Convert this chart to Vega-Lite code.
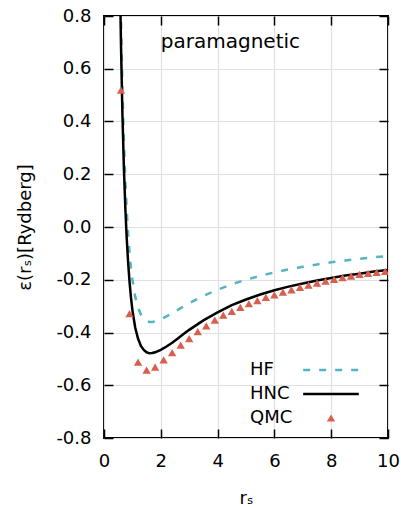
{
  "$schema": "https://vega.github.io/schema/vega-lite/v6.json",
  "width": 284,
  "height": 422,
  "autosize": {"type": "none"},
  "padding": {"left": 104, "top": 16, "right": 13, "bottom": 70},
  "background": "white",
  "config": {
    "font": "DejaVu Sans",
    "view": {"stroke": "black", "strokeWidth": 2},
    "axis": {
      "labelFont": "DejaVu Sans",
      "labelFontSize": 18,
      "labelColor": "black",
      "titleFont": "DejaVu Sans",
      "titleFontSize": 18,
      "titleFontWeight": "normal",
      "titleColor": "black",
      "domain": false,
      "tickColor": "black",
      "tickWidth": 1.5,
      "tickSize": -9,
      "gridColor": "#e0e0e0",
      "gridWidth": 1.2
    }
  },
  "datasets": {
    "curves": [
      {"series": "HF", "rs": 0.59, "e": 0.838},
      {"series": "HF", "rs": 0.6, "e": 0.777},
      {"series": "HF", "rs": 0.65, "e": 0.520},
      {"series": "HF", "rs": 0.7, "e": 0.326},
      {"series": "HF", "rs": 0.75, "e": 0.177},
      {"series": "HF", "rs": 0.8, "e": 0.062},
      {"series": "HF", "rs": 0.85, "e": -0.028},
      {"series": "HF", "rs": 0.9, "e": -0.099},
      {"series": "HF", "rs": 0.95, "e": -0.156},
      {"series": "HF", "rs": 1.0, "e": -0.200},
      {"series": "HF", "rs": 1.1, "e": -0.265},
      {"series": "HF", "rs": 1.2, "e": -0.306},
      {"series": "HF", "rs": 1.3, "e": -0.332},
      {"series": "HF", "rs": 1.4, "e": -0.347},
      {"series": "HF", "rs": 1.5, "e": -0.356},
      {"series": "HF", "rs": 1.6, "e": -0.360},
      {"series": "HF", "rs": 1.7, "e": -0.360},
      {"series": "HF", "rs": 1.8, "e": -0.358},
      {"series": "HF", "rs": 2.0, "e": -0.350},
      {"series": "HF", "rs": 2.2, "e": -0.339},
      {"series": "HF", "rs": 2.4, "e": -0.327},
      {"series": "HF", "rs": 2.6, "e": -0.314},
      {"series": "HF", "rs": 2.8, "e": -0.301},
      {"series": "HF", "rs": 3.0, "e": -0.289},
      {"series": "HF", "rs": 3.5, "e": -0.261},
      {"series": "HF", "rs": 4.0, "e": -0.238},
      {"series": "HF", "rs": 4.5, "e": -0.217},
      {"series": "HF", "rs": 5.0, "e": -0.200},
      {"series": "HF", "rs": 5.5, "e": -0.185},
      {"series": "HF", "rs": 6.0, "e": -0.172},
      {"series": "HF", "rs": 6.5, "e": -0.161},
      {"series": "HF", "rs": 7.0, "e": -0.151},
      {"series": "HF", "rs": 7.5, "e": -0.142},
      {"series": "HF", "rs": 8.0, "e": -0.134},
      {"series": "HF", "rs": 8.5, "e": -0.127},
      {"series": "HF", "rs": 9.0, "e": -0.121},
      {"series": "HF", "rs": 9.5, "e": -0.115},
      {"series": "HF", "rs": 10.0, "e": -0.110},
      {"series": "HNC", "rs": 0.57, "e": 0.880},
      {"series": "HNC", "rs": 0.6, "e": 0.682},
      {"series": "HNC", "rs": 0.65, "e": 0.422},
      {"series": "HNC", "rs": 0.7, "e": 0.226},
      {"series": "HNC", "rs": 0.75, "e": 0.075},
      {"series": "HNC", "rs": 0.8, "e": -0.043},
      {"series": "HNC", "rs": 0.85, "e": -0.135},
      {"series": "HNC", "rs": 0.9, "e": -0.209},
      {"series": "HNC", "rs": 0.95, "e": -0.268},
      {"series": "HNC", "rs": 1.0, "e": -0.315},
      {"series": "HNC", "rs": 1.1, "e": -0.382},
      {"series": "HNC", "rs": 1.2, "e": -0.424},
      {"series": "HNC", "rs": 1.3, "e": -0.451},
      {"series": "HNC", "rs": 1.4, "e": -0.466},
      {"series": "HNC", "rs": 1.5, "e": -0.475},
      {"series": "HNC", "rs": 1.6, "e": -0.479},
      {"series": "HNC", "rs": 1.7, "e": -0.478},
      {"series": "HNC", "rs": 1.8, "e": -0.475},
      {"series": "HNC", "rs": 2.0, "e": -0.466},
      {"series": "HNC", "rs": 2.2, "e": -0.453},
      {"series": "HNC", "rs": 2.4, "e": -0.439},
      {"series": "HNC", "rs": 2.6, "e": -0.423},
      {"series": "HNC", "rs": 2.8, "e": -0.406},
      {"series": "HNC", "rs": 3.0, "e": -0.390},
      {"series": "HNC", "rs": 3.5, "e": -0.354},
      {"series": "HNC", "rs": 4.0, "e": -0.324},
      {"series": "HNC", "rs": 4.5, "e": -0.296},
      {"series": "HNC", "rs": 5.0, "e": -0.275},
      {"series": "HNC", "rs": 5.5, "e": -0.256},
      {"series": "HNC", "rs": 6.0, "e": -0.240},
      {"series": "HNC", "rs": 6.5, "e": -0.226},
      {"series": "HNC", "rs": 7.0, "e": -0.214},
      {"series": "HNC", "rs": 7.5, "e": -0.203},
      {"series": "HNC", "rs": 8.0, "e": -0.193},
      {"series": "HNC", "rs": 8.5, "e": -0.184},
      {"series": "HNC", "rs": 9.0, "e": -0.177},
      {"series": "HNC", "rs": 9.5, "e": -0.169},
      {"series": "HNC", "rs": 10.0, "e": -0.163}
    ],
    "qmc": [
      {"series": "QMC", "rs": 0.6, "e": 0.519},
      {"series": "QMC", "rs": 0.9, "e": -0.328},
      {"series": "QMC", "rs": 1.2, "e": -0.512},
      {"series": "QMC", "rs": 1.5, "e": -0.543},
      {"series": "QMC", "rs": 1.8, "e": -0.531},
      {"series": "QMC", "rs": 2.1, "e": -0.504},
      {"series": "QMC", "rs": 2.4, "e": -0.476},
      {"series": "QMC", "rs": 2.7, "e": -0.448},
      {"series": "QMC", "rs": 3.0, "e": -0.423},
      {"series": "QMC", "rs": 3.3, "e": -0.397},
      {"series": "QMC", "rs": 3.6, "e": -0.375},
      {"series": "QMC", "rs": 3.9, "e": -0.353},
      {"series": "QMC", "rs": 4.2, "e": -0.334},
      {"series": "QMC", "rs": 4.5, "e": -0.320},
      {"series": "QMC", "rs": 4.8, "e": -0.305},
      {"series": "QMC", "rs": 5.1, "e": -0.291},
      {"series": "QMC", "rs": 5.4, "e": -0.279},
      {"series": "QMC", "rs": 5.7, "e": -0.267},
      {"series": "QMC", "rs": 6.0, "e": -0.257},
      {"series": "QMC", "rs": 6.3, "e": -0.247},
      {"series": "QMC", "rs": 6.6, "e": -0.238},
      {"series": "QMC", "rs": 6.9, "e": -0.229},
      {"series": "QMC", "rs": 7.2, "e": -0.220},
      {"series": "QMC", "rs": 7.5, "e": -0.213},
      {"series": "QMC", "rs": 7.8, "e": -0.205},
      {"series": "QMC", "rs": 8.1, "e": -0.199},
      {"series": "QMC", "rs": 8.4, "e": -0.192},
      {"series": "QMC", "rs": 8.7, "e": -0.186},
      {"series": "QMC", "rs": 9.0, "e": -0.180},
      {"series": "QMC", "rs": 9.3, "e": -0.176},
      {"series": "QMC", "rs": 9.6, "e": -0.172},
      {"series": "QMC", "rs": 9.9, "e": -0.168}
    ],
    "label": [{"rs": 2.0, "e": 0.70, "text": "paramagnetic"}]
  },
  "resolve": {"axis": {"x": "independent", "y": "independent"}},
  "layer": [
    {
      "data": {"name": "curves"},
      "transform": [{"filter": "datum.series === 'HF'"}],
      "mark": {"type": "line", "clip": true, "strokeWidth": 2.5, "strokeDash": [7, 9]},
      "encoding": {
        "x": {"field": "rs", "type": "quantitative",
              "scale": {"domain": [0, 10], "nice": false, "zero": false},
              "axis": {"title": "rₛ", "values": [0, 2, 4, 6, 8, 10], "labelPadding": 23, "titlePadding": 19, "grid": true, "labelFlush": false}},
        "y": {"field": "e", "type": "quantitative",
              "scale": {"domain": [-0.8, 0.8], "nice": false, "zero": false},
              "axis": {"title": "ε(rₛ)[Rydberg]", "values": [-0.8, -0.6, -0.4, -0.2, 0, 0.2, 0.4, 0.6, 0.8],
                       "labelExpr": "replace(format(datum.value, '.1f'), '\u2212', '-')",
                       "labelPadding": 22, "titlePadding": 21, "grid": true}},
        "color": {"field": "series", "type": "nominal",
                  "scale": {"domain": ["HF", "HNC", "QMC"], "range": ["#56b4bf", "#000000", "#d65f4f"]},
                  "legend": {
                    "title": null,
                    "orient": "none",
                    "legendX": 218,
                    "legendY": 345,
                    "padding": 0,
                    "symbolSize": 100,
                    "labelFontSize": 18,
                    "labelFont": "DejaVu Sans",
                    "labelColor": "black",
                    "labelAlign": "left",
                    "labelOffset": -90,
                    "rowPadding": 6,
                    "encode": {
                      "symbols": {
                        "update": {
                          "shape": {"signal": "datum.value === 'QMC' ? 'triangle-up' : 'stroke'"},
                          "size": {"signal": "datum.value === 'QMC' ? 70 : 3100"},
                          "strokeDash": {"signal": "datum.value === 'HF' ? [7, 9] : [1, 0]"},
                          "strokeWidth": {"signal": "datum.value === 'QMC' ? 0 : 2.5"},
                          "stroke": {"scale": "color", "field": "value"},
                          "fill": {"scale": "color", "field": "value"},
                          "fillOpacity": {"value": 1},
                          "opacity": {"value": 1}
                        }
                      }
                    }
                  }}
      }
    },
    {
      "data": {"name": "curves"},
      "transform": [{"filter": "datum.series === 'HNC'"}],
      "mark": {"type": "line", "clip": true, "strokeWidth": 2.5},
      "encoding": {
        "x": {"field": "rs", "type": "quantitative", "axis": {"orient": "top", "labels": false, "title": null, "grid": false, "values": [0, 2, 4, 6, 8, 10]}},
        "y": {"field": "e", "type": "quantitative", "axis": {"orient": "right", "labels": false, "title": null, "grid": false, "values": [-0.8, -0.6, -0.4, -0.2, 0, 0.2, 0.4, 0.6, 0.8]}},
        "color": {"field": "series", "type": "nominal"}
      }
    },
    {
      "data": {"name": "qmc"},
      "mark": {"type": "point", "shape": "triangle-up", "filled": true, "size": 70, "opacity": 1, "clip": true},
      "encoding": {
        "x": {"field": "rs", "type": "quantitative", "axis": null},
        "y": {"field": "e", "type": "quantitative", "axis": null},
        "color": {"field": "series", "type": "nominal"}
      }
    },
    {
      "data": {"name": "label"},
      "mark": {"type": "text", "align": "left", "baseline": "middle", "fontSize": 20, "font": "DejaVu Sans", "color": "black"},
      "encoding": {
        "x": {"field": "rs", "type": "quantitative", "axis": null},
        "y": {"field": "e", "type": "quantitative", "axis": null},
        "text": {"field": "text"}
      }
    }
  ]
}
